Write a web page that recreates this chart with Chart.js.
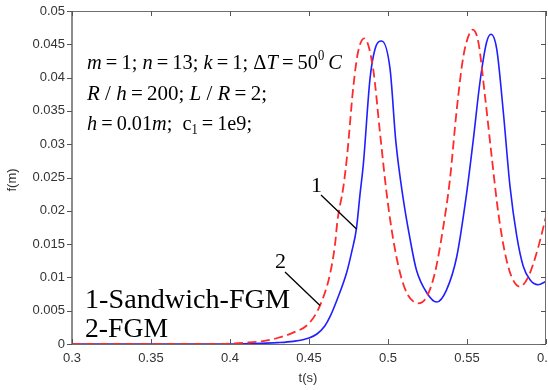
<!DOCTYPE html>
<html lang="en">
  <head>
    <meta charset="utf-8">
    <title>f(m) vs t(s)</title>
    <script src="https://cdn.jsdelivr.net/npm/chart.js"></script>
    <style>
      body { margin: 0; background: #fff; }
      #wrap { width: 548px; height: 390px; }
    </style>
  </head>
  <body>
    <div id="wrap"><canvas id="myChart" width="548" height="390"></canvas></div>
    <script>
      // curve 1: Sandwich-FGM (blue, solid)
      var t1 = [0.30, 0.40, 0.42, 0.43, 0.44, 0.45, 0.455, 0.46, 0.4633, 0.468, 0.4738, 0.477, 0.480, 0.4823,
                0.4844, 0.4886, 0.4918, 0.496, 0.5013, 0.505, 0.5097, 0.514, 0.518, 0.5245, 0.5308, 0.537,
                0.5435, 0.5498, 0.554, 0.5582, 0.5624, 0.5652, 0.5688, 0.573, 0.5772, 0.5815, 0.5857, 0.59,
                0.595, 0.60];
      var f1 = [0, 0, 0.0001, 0.0002, 0.0004, 0.0009, 0.0015, 0.0027, 0.0041, 0.0068, 0.0107, 0.0138, 0.0173, 0.0225,
                0.0270, 0.0398, 0.0443, 0.0455, 0.0413, 0.0303, 0.0217, 0.0157, 0.0111, 0.0077, 0.0063, 0.0081,
                0.0131, 0.0227, 0.0307, 0.0393, 0.0453, 0.0465, 0.0443, 0.0348, 0.0237, 0.0162, 0.0116, 0.0096,
                0.0089, 0.0094];

      // curve 2: FGM (red, dashed)
      var t2 = [0.30, 0.39, 0.41, 0.42, 0.43, 0.44, 0.45, 0.457, 0.4633, 0.4665, 0.468, 0.4717, 0.474, 0.478,
                0.481, 0.485, 0.4906, 0.4949, 0.4991, 0.5033, 0.5076, 0.5118, 0.516, 0.519, 0.5245, 0.5297,
                0.535, 0.5392, 0.5435, 0.5477, 0.5519, 0.5536, 0.5572, 0.5614, 0.5656, 0.5698, 0.574, 0.5782,
                0.5835, 0.5888, 0.5941, 0.60];
      var f2 = [0, 0, 0.0002, 0.0004, 0.0009, 0.0017, 0.0031, 0.0058, 0.0105, 0.0150, 0.0185, 0.0235, 0.0280, 0.0385,
                0.0438, 0.0459, 0.0413, 0.0318, 0.0227, 0.0157, 0.0107, 0.0077, 0.0064, 0.0061, 0.0071, 0.0107,
                0.0176, 0.0247, 0.0352, 0.0432, 0.0468, 0.0472, 0.0453, 0.0372, 0.0282, 0.0197, 0.0137, 0.0101,
                0.0086, 0.0101, 0.0137, 0.0191];

      var xTicks = [0.3, 0.35, 0.4, 0.45, 0.5, 0.55, 0.6];
      var yTicks = [0, 0.005, 0.01, 0.015, 0.02, 0.025, 0.03, 0.035, 0.04, 0.045, 0.05];

      function pts(xs, ys) {
        return xs.map(function (x, i) { return { x: x, y: ys[i] }; });
      }
      function fmt(v) { return String(Number(v.toFixed(3))); }

      var serif = '"Liberation Serif", "Times New Roman", serif';
      var sans = '"Liberation Sans", Arial, sans-serif';
      var th = '\u2009';

      // width of a rich line: segments [text, style], style "i", "r", "sup", "sub"
      function segFont(st, size) {
        var fs = (st === 'sup' || st === 'sub') ? size * 0.62 : size;
        return (st === 'i' ? 'italic ' : '') + fs + 'px ' + serif;
      }
      function richWidth(ctx, size, segs) {
        var w = 0;
        segs.forEach(function (s) { ctx.font = segFont(s[1], size); w += ctx.measureText(s[0]).width; });
        return w;
      }
      // draw rich text squeezed/stretched to a given width
      function drawRich(ctx, x, y, size, segs, width) {
        var sx = width / richWidth(ctx, size, segs);
        ctx.save();
        ctx.translate(x, y);
        ctx.scale(sx, 1);
        var cx = 0;
        segs.forEach(function (s) {
          var st = s[1] || 'r', dy = 0;
          if (st === 'sup') dy = -size * 0.42;
          if (st === 'sub') dy = size * 0.2;
          ctx.font = segFont(st, size);
          ctx.fillText(s[0], cx, dy);
          cx += ctx.measureText(s[0]).width;
        });
        ctx.restore();
      }

      var decor = {
        id: 'decor',
        afterDraw: function (chart) {
          var ctx = chart.ctx, a = chart.chartArea;
          var xs = chart.scales.x, ys = chart.scales.y;
          ctx.save();
          // box
          ctx.strokeStyle = '#6e6e6e';
          ctx.lineWidth = 1;
          ctx.strokeRect(a.left + 0.5, a.top + 0.5, a.right - a.left - 1, a.bottom - a.top);
          ctx.strokeStyle = '#8c8c8c';
          ctx.lineWidth = 2;
          ctx.beginPath();
          ctx.moveTo(a.left, a.top); ctx.lineTo(a.left, a.bottom);
          ctx.stroke();
          // ticks
          ctx.strokeStyle = '#555';
          ctx.lineWidth = 1;
          ctx.beginPath();
          xTicks.forEach(function (v) {
            var px = Math.round(xs.getPixelForValue(v)) + 0.5;
            ctx.moveTo(px, a.bottom); ctx.lineTo(px, a.bottom - 5);
            ctx.moveTo(px, a.top); ctx.lineTo(px, a.top + 5);
          });
          yTicks.forEach(function (v) {
            var py = Math.round(ys.getPixelForValue(v)) + 0.5;
            ctx.moveTo(a.left - 5, py); ctx.lineTo(a.left, py);
            ctx.moveTo(a.right, py); ctx.lineTo(a.right - 5, py);
          });
          ctx.stroke();

          // parameter text
          ctx.fillStyle = '#000';
          ctx.textBaseline = 'alphabetic';
          ctx.textAlign = 'left';
          var fs = 22;
          drawRich(ctx, 87, 69, fs, [['m', 'i'], [th + '=' + th + '1; '], ['n', 'i'], [th + '=' + th + '13; '],
            ['k', 'i'], [th + '=' + th + '1; \u0394'], ['T', 'i'], [th + '=' + th + '50'], ['0', 'sup'],
            [th], ['C', 'i']], 255);
          drawRich(ctx, 87, 100, fs, [['R', 'i'], [' / '], ['h', 'i'], [th + '=' + th + '200; '], ['L', 'i'],
            [' / '], ['R', 'i'], [th + '=' + th + '2;']], 180);
          drawRich(ctx, 87, 130, fs, [['h', 'i'], [th + '=' + th + '0.01'], ['m', 'i'], [';  c'], ['1', 'sub'],
            [th + '=' + th + '1e9;']], 165);

          // legend text
          drawRich(ctx, 85, 308, 27, [['1-Sandwich-FGM']], 205);
          drawRich(ctx, 85, 337, 27, [['2-FGM']], 83);

          // curve labels with leader lines
          ctx.font = '22px ' + serif;
          ctx.fillText('1', 311, 192);
          ctx.fillText('2', 275, 268);
          ctx.strokeStyle = '#000';
          ctx.lineWidth = 1.3;
          ctx.beginPath();
          ctx.moveTo(321, 195); ctx.lineTo(356.5, 229);
          ctx.moveTo(285, 272); ctx.lineTo(320, 305.5);
          ctx.stroke();

          // axis titles
          ctx.fillStyle = '#333';
          ctx.font = '13px ' + sans;
          ctx.textAlign = 'center';
          ctx.textBaseline = 'middle';
          ctx.fillText('t(s)', (a.left + a.right) / 2 - 1, 378);
          ctx.translate(12, 180);
          ctx.rotate(-Math.PI / 2);
          ctx.fillText('f(m)', 0, 0);
          ctx.restore();
        }
      };

      var chart = new Chart('myChart', {
        type: 'line',
        data: {
          datasets: [
            {
              label: '2-FGM',
              data: pts(t2, f2),
              borderColor: '#ff2a2a',
              borderWidth: 1.8,
              borderDash: [9, 4.5],
              pointRadius: 0,
              cubicInterpolationMode: 'monotone',
              order: 0
            },
            {
              label: '1-Sandwich-FGM',
              data: pts(t1, f1),
              borderColor: '#1f1fff',
              borderWidth: 1.6,
              pointRadius: 0,
              cubicInterpolationMode: 'monotone',
              order: 1
            }
          ]
        },
        options: {
          responsive: false,
          animation: false,
          layout: { padding: { left: 0, right: 2, top: 11, bottom: 0 } },
          plugins: { legend: { display: false }, tooltip: { enabled: false } },
          scales: {
            x: {
              type: 'linear',
              min: 0.3,
              max: 0.6,
              afterBuildTicks: function (s) { s.ticks = xTicks.map(function (v) { return { value: v }; }); },
              afterFit: function (s) { s.height = 46; s.paddingLeft = 0; s.paddingRight = 0; },
              grid: { display: false, drawTicks: false },
              border: { display: false },
              ticks: {
                color: '#333',
                font: { family: sans, size: 13 },
                padding: 7,
                maxRotation: 0,
                autoSkip: false,
                callback: function (v) { return fmt(v); }
              }
            },
            y: {
              min: 0,
              max: 0.05,
              afterBuildTicks: function (s) { s.ticks = yTicks.map(function (v) { return { value: v }; }); },
              afterFit: function (s) { s.width = 72; s.paddingTop = 0; s.paddingBottom = 0; },
              grid: { display: false, drawTicks: false },
              border: { display: false },
              ticks: {
                color: '#333',
                font: { family: sans, size: 13 },
                padding: 7,
                autoSkip: false,
                callback: function (v) { return fmt(v); }
              }
            }
          }
        },
        plugins: [decor]
      });
    </script>
  </body>
</html>
